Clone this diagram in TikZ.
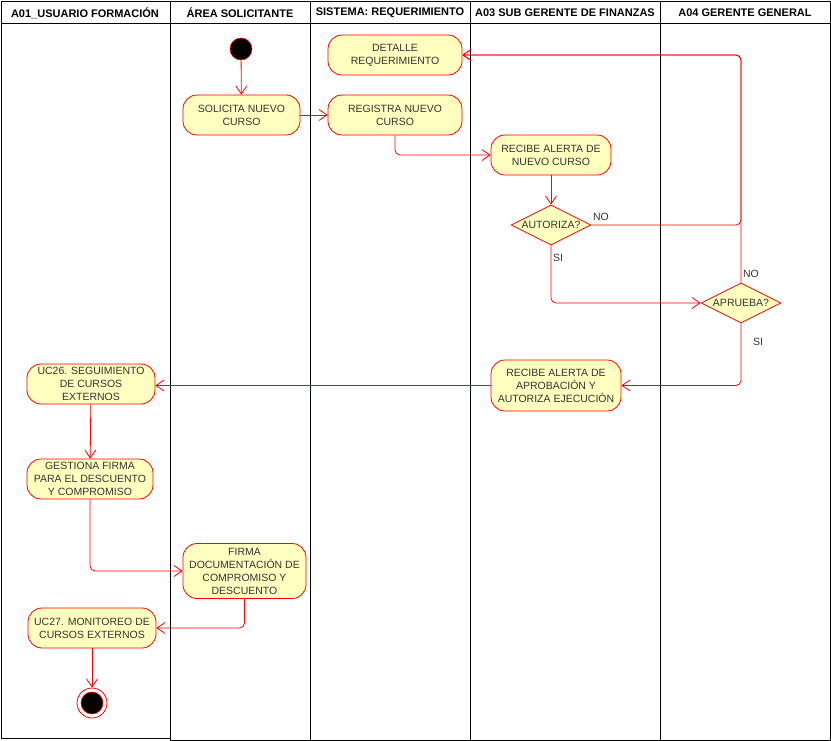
\documentclass[tikz,border=0pt]{standalone}
\usepackage{fontspec}
\setmainfont{Liberation Sans}
\usetikzlibrary{arrows.meta,shapes.geometric}
\definecolor{nfill}{HTML}{FFFFC0}
\definecolor{ntext}{HTML}{333333}
\tikzset{
  act/.style={draw=red, fill=nfill, rounded corners=14pt, align=center, text=ntext,
    font=\fontsize{10.5}{13}\selectfont, inner sep=1pt, line width=0.8pt},
  dec/.style={draw=red, fill=nfill, diamond, aspect=2, inner sep=0pt, text=ntext,
    font=\fontsize{10.5}{13}\selectfont, minimum width=80pt, minimum height=40pt, line width=0.8pt},
  flow/.style={draw=red, line width=0.8pt, rounded corners=5pt, -{Straight Barb[length=8pt,width=11pt]}},
  lane/.style={draw=black, line width=0.8pt},
  head/.style={font=\fontsize{11}{13}\selectfont\bfseries, text=black},
  lbl/.style={font=\fontsize{10.5}{13}\selectfont, text=ntext}
}
\begin{document}
\begin{tikzpicture}[x=1pt,y=-1pt]
\useasboundingbox (0,0) rectangle (831,741);
% lanes
\draw[lane] (1,1) rectangle (170,738);
\draw[lane] (170,1) rectangle (310,740);
\draw[lane] (310,1) rectangle (470,740);
\draw[lane] (470,1) rectangle (660,740);
\draw[lane] (660,1) rectangle (830,740);
\draw[lane] (1,23) -- (830,23);
\node[head] (h1) at (85,13) {A01\_USUARIO FORMACIÓN};
\node[head] (h2) at (240,13) {ÁREA SOLICITANTE};
\node[head] (h3) at (390,13) {SISTEMA: REQUERIMIENTO};
\node[head] (h4) at (565,13) {A03 SUB GERENTE DE FINANZAS};
\node[head] (h5) at (745,13) {A04 GERENTE GENERAL};
% nodes
\node[circle, fill=black, draw=red, line width=0.6pt, minimum size=22pt, inner sep=0pt] (start) at (241,49) {};
\node[act, minimum width=117pt, minimum height=40pt] (sol) at (241.5,115) {SOLICITA NUEVO\\CURSO};
\node[act, minimum width=134pt, minimum height=40pt] (det) at (395,55) {DETALLE\\REQUERIMIENTO};
\node[act, minimum width=134pt, minimum height=40pt] (reg) at (395,115) {REGISTRA NUEVO\\CURSO};
\node[act, minimum width=120pt, minimum height=40pt] (rec1) at (551,155) {RECIBE ALERTA DE\\NUEVO CURSO};
\node[dec] (aut) at (551,225) {AUTORIZA?};
\node[dec] (apr) at (741,303) {APRUEBA?};
\node[act, minimum width=130pt, minimum height=51pt] (rec2) at (556,385.5) {RECIBE ALERTA DE\\APROBACIÓN Y\\AUTORIZA EJECUCIÓN};
\node[act, minimum width=128pt, minimum height=40pt] (uc26) at (91,384) {UC26. SEGUIMIENTO\\DE CURSOS\\EXTERNOS};
\node[act, minimum width=126pt, minimum height=40pt] (ges) at (90,479) {GESTIONA FIRMA\\PARA EL DESCUENTO\\Y COMPROMISO};
\node[act, minimum width=123pt, minimum height=55pt] (fir) at (244.5,571) {FIRMA\\DOCUMENTACIÓN DE\\COMPROMISO Y\\DESCUENTO};
\node[act, minimum width=128pt, minimum height=40pt] (uc27) at (92,628) {UC27. MONITOREO DE\\CURSOS EXTERNOS};
\node[circle, draw=red, fill=white, line width=0.8pt, minimum size=30pt, inner sep=0pt] (end) at (92,703) {};
\node[circle, fill=black, draw=red, line width=0.6pt, minimum size=22pt, inner sep=0pt] (endin) at (end.center) {};
\coordinate (c1) at (741,55);
% connectors
\draw[flow] (start) -- (sol);
\draw[flow] (sol) -- (reg);
\draw[flow] (reg.south) |- (rec1.west);
\draw[flow] (rec1) -- (aut);
\draw[flow] (aut.east) -| (c1) -- (det.east);
\draw[flow] (aut.south) |- (apr.west);
\draw[flow] (apr.north) -- (c1) -- (det.east);
\draw[flow] (apr.south) |- (rec2.east);
\draw[flow] (rec2.west) -- (uc26.east |- rec2.west);
\draw[flow] (uc26) -- (ges);
\draw[flow] (ges.south) |- (fir.west);
\draw[flow] (fir.south) |- (uc27.east);
\draw[flow] (uc27) -- (end);
% labels
\node[lbl] (l1) at (601,217) {NO};
\node[lbl] (l2) at (558,258) {SI};
\node[lbl] (l3) at (751,274) {NO};
\node[lbl] (l4) at (758,342) {SI};
\end{tikzpicture}
\end{document}
